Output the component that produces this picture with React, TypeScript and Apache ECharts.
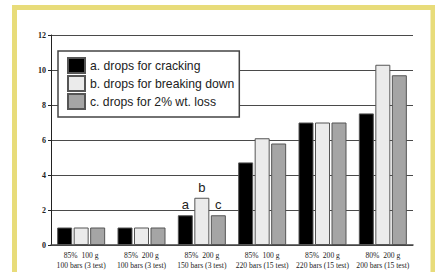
import React, { useEffect, useRef } from "react";
import * as echarts from "echarts";

const categories = [
  "85%  100 g\n100 bars (3 test)",
  "85%  200 g\n100 bars (3 test)",
  "85%  200 g\n150 bars (3 test)",
  "85%  100 g\n220 bars (15 test)",
  "85%  200 g\n220 bars (15 test)",
  "80%  200 g\n200 bars (15 test)",
];
const seriesNames = [
  "a. drops for cracking",
  "b. drops for breaking down",
  "c. drops for 2% wt. loss",
];
const cracking = [1, 1, 1.7, 4.72, 7, 7.52];
const breakingDown = [1, 1, 2.7, 6.1, 7, 10.3];
const weightLoss = [1, 1, 1.7, 5.8, 7, 9.7];
const annotations = ["a", "b", "c"];
const annotatedIndex = 2;
const colors = ["#000000", "#ebebeb", "#a5a5a5"];

export default function App() {
  const ref = useRef<HTMLDivElement>(null);
  useEffect(() => {
    if (!ref.current) return;
    const chart = echarts.init(ref.current, undefined, { renderer: "svg" });
    const values = [cracking, breakingDown, weightLoss];
    const series = values.map((vals, si) => ({
      name: seriesNames[si],
      type: "bar",
      barWidth: 15,
      barGap: "10%",
      itemStyle: { color: colors[si], borderColor: "#555", borderWidth: 1 },
      data: vals.map((v, i) =>
        i === annotatedIndex
          ? {
              value: v,
              label: {
                show: true,
                position: "top",
                distance: 4,
                formatter: annotations[si],
                fontFamily: "Liberation Sans",
                fontSize: 13,
                color: "#222",
              },
            }
          : v
      ),
    }));
    chart.setOption({
      animation: false,
      backgroundColor: "#ffffff",
      grid: { left: 51, top: 35, right: 22, bottom: 27, containLabel: false },
      legend: {
        orient: "vertical",
        left: 58,
        top: 51,
        padding: [6, 5, 7, 9],
        itemWidth: 17,
        itemHeight: 15,
        itemGap: 1,
        borderColor: "#444",
        borderWidth: 1.5,
        backgroundColor: "#ffffff",
        icon: "rect",
        textStyle: { fontFamily: "Liberation Sans", fontSize: 12.2, color: "#222" },
        data: seriesNames,
      },
      xAxis: {
        type: "category",
        data: categories,
        axisLine: { lineStyle: { color: "#444", width: 1.5 } },
        axisTick: { show: false },
        axisLabel: {
          interval: 0,
          hideOverlap: false,
          fontFamily: "Liberation Serif",
          fontSize: 7.6,
          color: "#1a1a1a",
          lineHeight: 10,
          margin: 5,
        },
      },
      yAxis: {
        type: "value",
        min: 0,
        max: 12,
        interval: 2,
        axisLine: { show: true, lineStyle: { color: "#222", width: 1 } },
        axisTick: { show: true, length: 3, lineStyle: { color: "#222" } },
        splitLine: { lineStyle: { color: "#4a4a4a", width: 1.2 } },
        axisLabel: {
          fontFamily: "Liberation Serif",
          fontSize: 8,
          fontWeight: "bold",
          color: "#222",
          margin: 5,
        },
      },
      graphic: [
        {
          type: "rect",
          shape: { x: 14.5, y: 7.5, width: 418.5, height: 300 },
          style: { fill: "none", stroke: "#e8dc7a", lineWidth: 5 },
          silent: true,
          z: 100,
        },
      ],
      series,
    });
    return () => chart.dispose();
  }, []);
  return (
    <div
      ref={ref}
      style={{ position: "fixed", left: 0, top: 0, width: 435, height: 272 }}
    />
  );
}
